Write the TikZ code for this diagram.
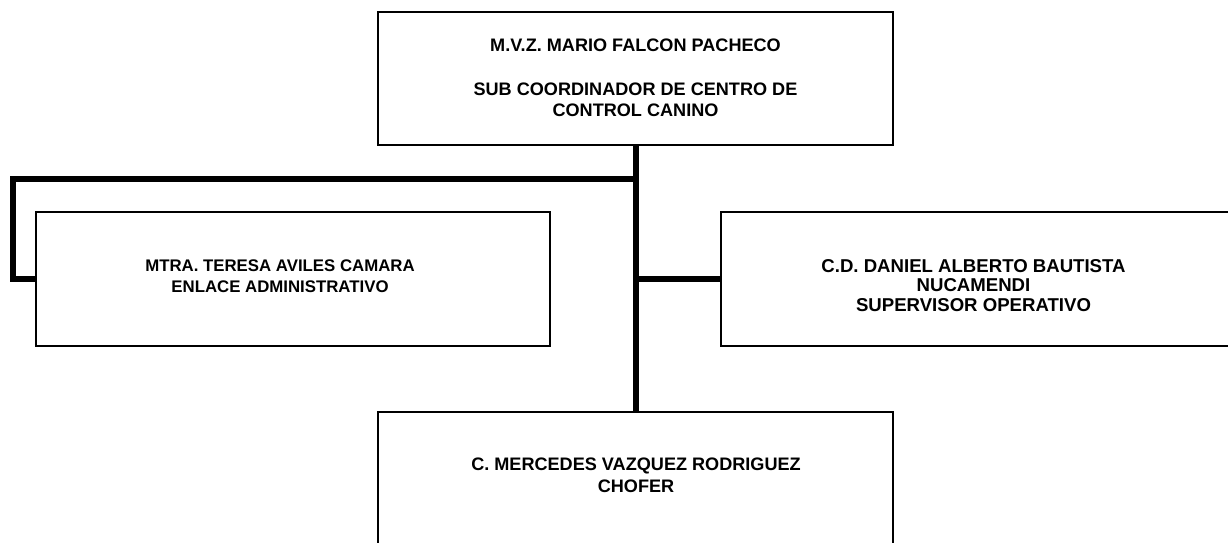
\documentclass[tikz,border=0pt]{standalone}
\usepackage{fontspec}
\setmainfont{Liberation Sans}
\begin{document}
\begin{tikzpicture}[x=1pt,y=1pt,
  box/.style={draw=black,line width=1.3pt,fill=none,rectangle,inner sep=0pt},
  txt/.style={font=\bfseries\fontsize{18.1}{21.6}\selectfont,align=center,inner sep=0pt,anchor=north},
  conn/.style={draw=black,line width=6pt,line join=miter}]
\useasboundingbox (0,0) rectangle (1228,543);
% boxes
\node[box,minimum width=515pt,minimum height=133pt] (top) at (635.5,464.5) {};
\node[box,minimum width=514pt,minimum height=134pt] (left) at (293,264) {};
\node[box,minimum width=510pt,minimum height=134pt] (right) at (976,264) {};
\node[box,minimum width=515pt,minimum height=148pt] (bot) at (635.5,57) {};
% texts
\node[txt] (toptxt) at (635.5,504) {M.V.Z. MARIO FALCON PACHECO\\[21.6pt]SUB COORDINADOR DE CENTRO DE\\CONTROL CANINO};
\node[txt,font=\bfseries\fontsize{16.8}{21}\selectfont] (lefttxt) at (280,283) {MTRA. TERESA AVILES CAMARA\\ENLACE ADMINISTRATIVO};
\node[txt,font=\bfseries\fontsize{18.6}{19.7}\selectfont] (righttxt) at (973.5,284) {C.D. DANIEL ALBERTO BAUTISTA\\NUCAMENDI\\SUPERVISOR OPERATIVO};
\node[txt] (bottxt) at (636,85) {C. MERCEDES VAZQUEZ RODRIGUEZ\\CHOFER};
% connectors
\coordinate (jl) at (636,363.5);
\coordinate (cl) at (12.5,363.5);
\coordinate (jr) at (636,264);
\draw[conn] (top.south -| jl) -- (bot.north -| jl);
\draw[conn] (jl) -- (cl) |- (left.west);
\draw[conn] (jr) -- (right.west);
\end{tikzpicture}
\end{document}
